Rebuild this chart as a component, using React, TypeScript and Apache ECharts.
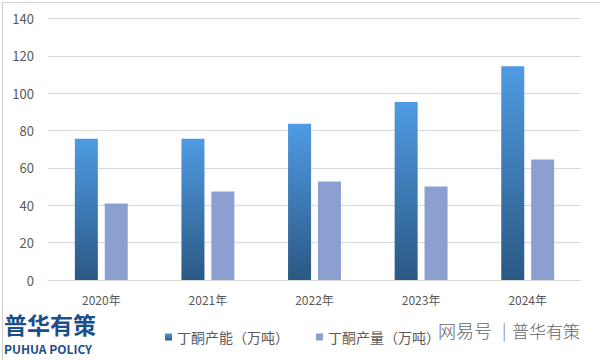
import React, { useEffect, useRef } from "react";
import * as echarts from "echarts";

const categories = ["2020年", "2021年", "2022年", "2023年", "2024年"];
const capacity = [75.6, 75.6, 83.7, 95.3, 114.5];
const production = [41, 47.4, 52.7, 50, 64.5];
const seriesNames = ["丁酮产能（万吨）", "丁酮产量（万吨）"];

export default function App() {
  const ref = useRef<HTMLDivElement>(null);
  useEffect(() => {
    document.body.style.margin = "0";
    const chart = echarts.init(ref.current!, null, { renderer: "svg" });
    const font = '"Noto Sans CJK SC", "Noto Sans", sans-serif';
    chart.setOption({
      animation: false,
      backgroundColor: "#ffffff",
      textStyle: { fontFamily: font },
      grid: { left: 48, right: 19, top: 18.5, bottom: 80 },
      legend: {
        left: 160,
        top: 325,
        icon: "rect",
        itemWidth: 7,
        itemHeight: 7,
        itemGap: 27,
        textStyle: { fontSize: 14, color: "#595959", fontFamily: font },
        data: seriesNames,
      },
      xAxis: {
        type: "category",
        data: categories,
        axisLine: { lineStyle: { color: "#d9d9d9" } },
        axisTick: { show: false },
        axisLabel: { fontSize: 12, color: "#595959", margin: 13, fontFamily: font },
      },
      yAxis: {
        type: "value",
        min: 0,
        max: 140,
        interval: 20,
        axisLine: { show: false },
        axisTick: { show: false },
        axisLabel: { fontSize: 13, color: "#595959", margin: 14, fontFamily: font },
        splitLine: { lineStyle: { color: "#d9d9d9" } },
      },
      series: [
        {
          name: seriesNames[0],
          type: "bar",
          data: capacity,
          barWidth: 23,
          barGap: "30%",
          itemStyle: {
            color: new echarts.graphic.LinearGradient(0, 0, 0, 1, [
              { offset: 0, color: "#4f9be2" },
              { offset: 1, color: "#2b5884" },
            ]),
          },
        },
        {
          name: seriesNames[1],
          type: "bar",
          data: production,
          barWidth: 23,
          itemStyle: { color: "#8c9fd1" },
        },
      ],
      graphic: [
        {
          type: "rect",
          left: 0,
          top: 0,
          shape: { width: 599, height: 359 },
          style: { fill: "none", stroke: "#d0d0d0", lineWidth: 1 },
          silent: true,
        },
        {
          type: "text",
          left: 4,
          top: 312,
          style: {
            text: "普华有策",
            font: `bold 23px ${font}`,
            fill: "#1b4f8b",
          },
        },
        {
          type: "text",
          left: 4,
          top: 342,
          style: {
            text: "PUHUA POLICY",
            font: `bold 12px ${font}`,
            fill: "#1b4f8b",
          },
        },
        {
          type: "text",
          left: 438,
          top: 321,
          style: {
            text: "网易号",
            font: `300 18px ${font}`,
            fill: "#666666",
          },
        },
        {
          type: "text",
          left: 502,
          top: 321,
          style: {
            text: "|",
            font: `300 17px ${font}`,
            fill: "#777777",
          },
        },
        {
          type: "text",
          left: 512,
          top: 322,
          style: {
            text: "普华有策",
            font: `300 17px ${font}`,
            fill: "#666666",
          },
        },
      ],
    });
    return () => chart.dispose();
  }, []);
  return <div ref={ref} style={{ width: 600, height: 360 }} />;
}
